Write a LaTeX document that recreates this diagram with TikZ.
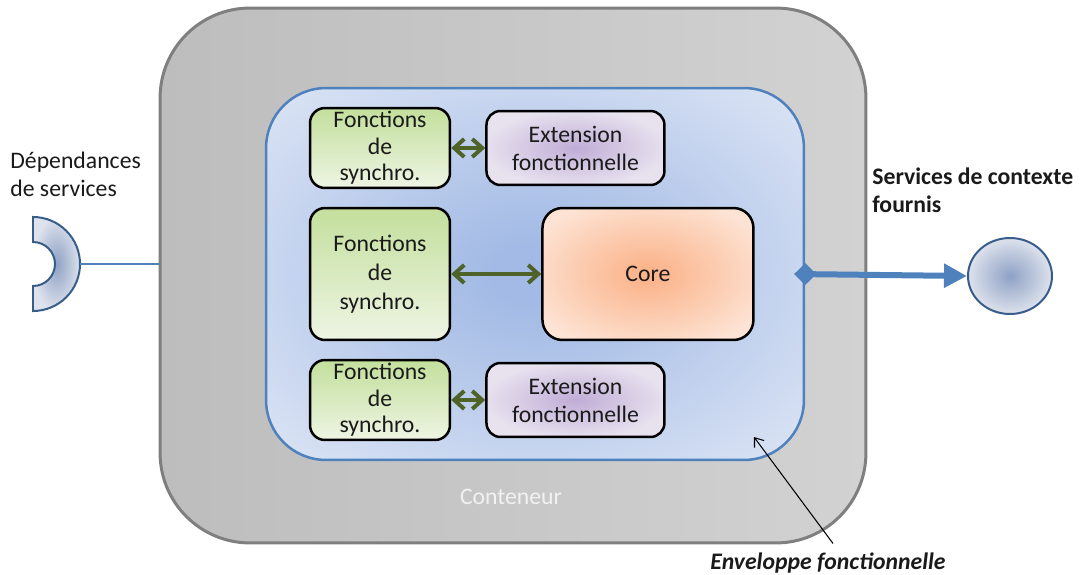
\documentclass[tikz,border=0pt]{standalone}
\usepackage{fontspec}
\setmainfont{Carlito}
\usetikzlibrary{positioning,shapes.geometric,arrows.meta,calc}
\definecolor{contL}{HTML}{BDBDBD}
\definecolor{contR}{HTML}{D2D2D2}
\definecolor{contdraw}{HTML}{7F7F7F}
\definecolor{conttext}{HTML}{F2F2F2}
\definecolor{envdraw}{HTML}{4F81BD}
\definecolor{envin}{HTML}{A2BAE5}
\definecolor{envout}{HTML}{DAE3F4}
\definecolor{syncTop}{HTML}{C3DF9C}
\definecolor{syncBot}{HTML}{EEF5E4}
\definecolor{extin}{HTML}{C0ACD6}
\definecolor{extout}{HTML}{E8E2EF}
\definecolor{corein}{HTML}{FBB58D}
\definecolor{coreout}{HTML}{FDE3D4}
\definecolor{arrowgreen}{HTML}{4F6228}
\definecolor{ringdraw}{HTML}{385D8A}
\definecolor{ringin}{HTML}{8EA1C5}
\definecolor{ringout}{HTML}{DDE2EC}
\definecolor{textdark}{HTML}{1A1A1A}
\pgfdeclareradialshading{envshade}{\pgfpointorigin}{color(0bp)=(envin); color(4bp)=(envin); color(34bp)=(envout); color(50bp)=(envout)}
\pgfdeclareradialshading{coreshade}{\pgfpointorigin}{color(0bp)=(corein); color(3bp)=(corein); color(30bp)=(coreout); color(50bp)=(coreout)}
\pgfdeclareradialshading{extshade}{\pgfpointorigin}{color(0bp)=(extin); color(26bp)=(extout); color(50bp)=(extout)}
\tikzset{cont node/.style={draw=contdraw,line width=0.06cm,rounded corners=1.8cm,
left color=contL,right color=contR,minimum width=14.12cm,minimum height=10.7cm},
env node/.style={draw=envdraw,line width=0.05cm,rounded corners=1.2cm,
shade,shading=envshade,minimum width=10.76cm,minimum height=7.44cm},
sync node/.style={draw=black,line width=0.05cm,rounded corners=0.3cm,top color=syncTop,
bottom color=syncBot,minimum width=2.8cm,align=center,inner sep=1pt,
font=\fontsize{13.5}{15}\selectfont},
ext node/.style={draw=black,line width=0.05cm,rounded corners=0.28cm,shade,shading=extshade,
minimum width=3.56cm,minimum height=1.48cm,align=center,inner sep=1pt},
core node/.style={draw=black,line width=0.05cm,rounded corners=0.4cm,shade,shading=coreshade,
minimum width=4.22cm,minimum height=2.64cm},
serv node/.style={ellipse,draw=ringdraw,line width=0.04cm,inner color=ringin,
outer color=ringout,minimum width=1.68cm,minimum height=1.52cm},
sync arrow/.style={draw=arrowgreen,line width=0.08cm,
{Straight Barb[length=0.2cm,width=0.36cm]}-{Straight Barb[length=0.2cm,width=0.36cm]}},
label text/.style={inner sep=0pt,text=textdark}}

\begin{document}
\begin{tikzpicture}[x=0.02cm,y=-0.02cm,font=\fontsize{13.5}{16}\selectfont,text=textdark]
    \useasboundingbox (0,0) rectangle (1080,575);
    \node[cont node] (cont) at (513,275.5) {};
    \node[env node] (env) at (535,274) {};
    \node[text=conttext] (contlab) at (511,497) {Conteneur};

            \node[sync node,minimum height=1.6cm] (sync1) at (380,148) {Fonctions\\de\\synchro.};
            \node[ext node] (ext1) [right=0.68cm of sync1] {Extension\\fonctionnelle};
            \node[sync node,minimum height=2.64cm,font=\fontsize{13.5}{16.5}\selectfont] (sync2) at (380,274) {Fonctions\\de\\synchro.};
            \node[core node] (core) [right=1.8cm of sync2] {Core};
            \node[sync node,minimum height=1.6cm] (sync3) at (380,400) {Fonctions\\de\\synchro.};
            \node[ext node] (ext2) [right=0.68cm of sync3] {Extension\\fonctionnelle};

            \draw[sync arrow] (sync1)--(ext1);
            \draw[sync arrow] (sync2)--(core);
            \draw[sync arrow] (sync3)--(ext2);

            \path[draw=ringdraw,line width=0.04cm,inner color=ringin,outer color=ringout]
            (33,217) arc[start angle=-90,end angle=90,radius=47] -- (33,286)
            arc[start angle=90,end angle=-90,radius=22] -- cycle;
            \coordinate (dep) at (80,264);
            \draw[envdraw,line width=0.6pt] (dep) -- (dep -| cont.west);

            \node[serv node] (serv) at (1010,276) {};
            \draw[envdraw,line width=0.12cm,{Diamond[length=0.44cm,width=0.44cm]}-{Triangle[length=0.46cm,width=0.46cm]}]
            ([xshift=-0.22cm]env.east) -- (serv.west);

            \node[label text,anchor=west,align=left] (deplab) at (10,174) {Dépendances\\de services};
            \node[label text,anchor=west,align=left,font=\fontsize{13.5}{16}\selectfont\bfseries] (servlab) at (872,190) {Services de contexte\\fournis};
            \node[label text,font=\fontsize{13.5}{16}\selectfont\bfseries\itshape] (envlab) at (828,563) {Enveloppe fonctionnelle};
            \coordinate (envpt) at (754,437);
            \draw[black,line width=0.6pt,-{Straight Barb[length=0.16cm,width=0.24cm]}] ($(envlab.north)+(5,-9)$) -- (envpt);

\end{tikzpicture}
\end{document}
